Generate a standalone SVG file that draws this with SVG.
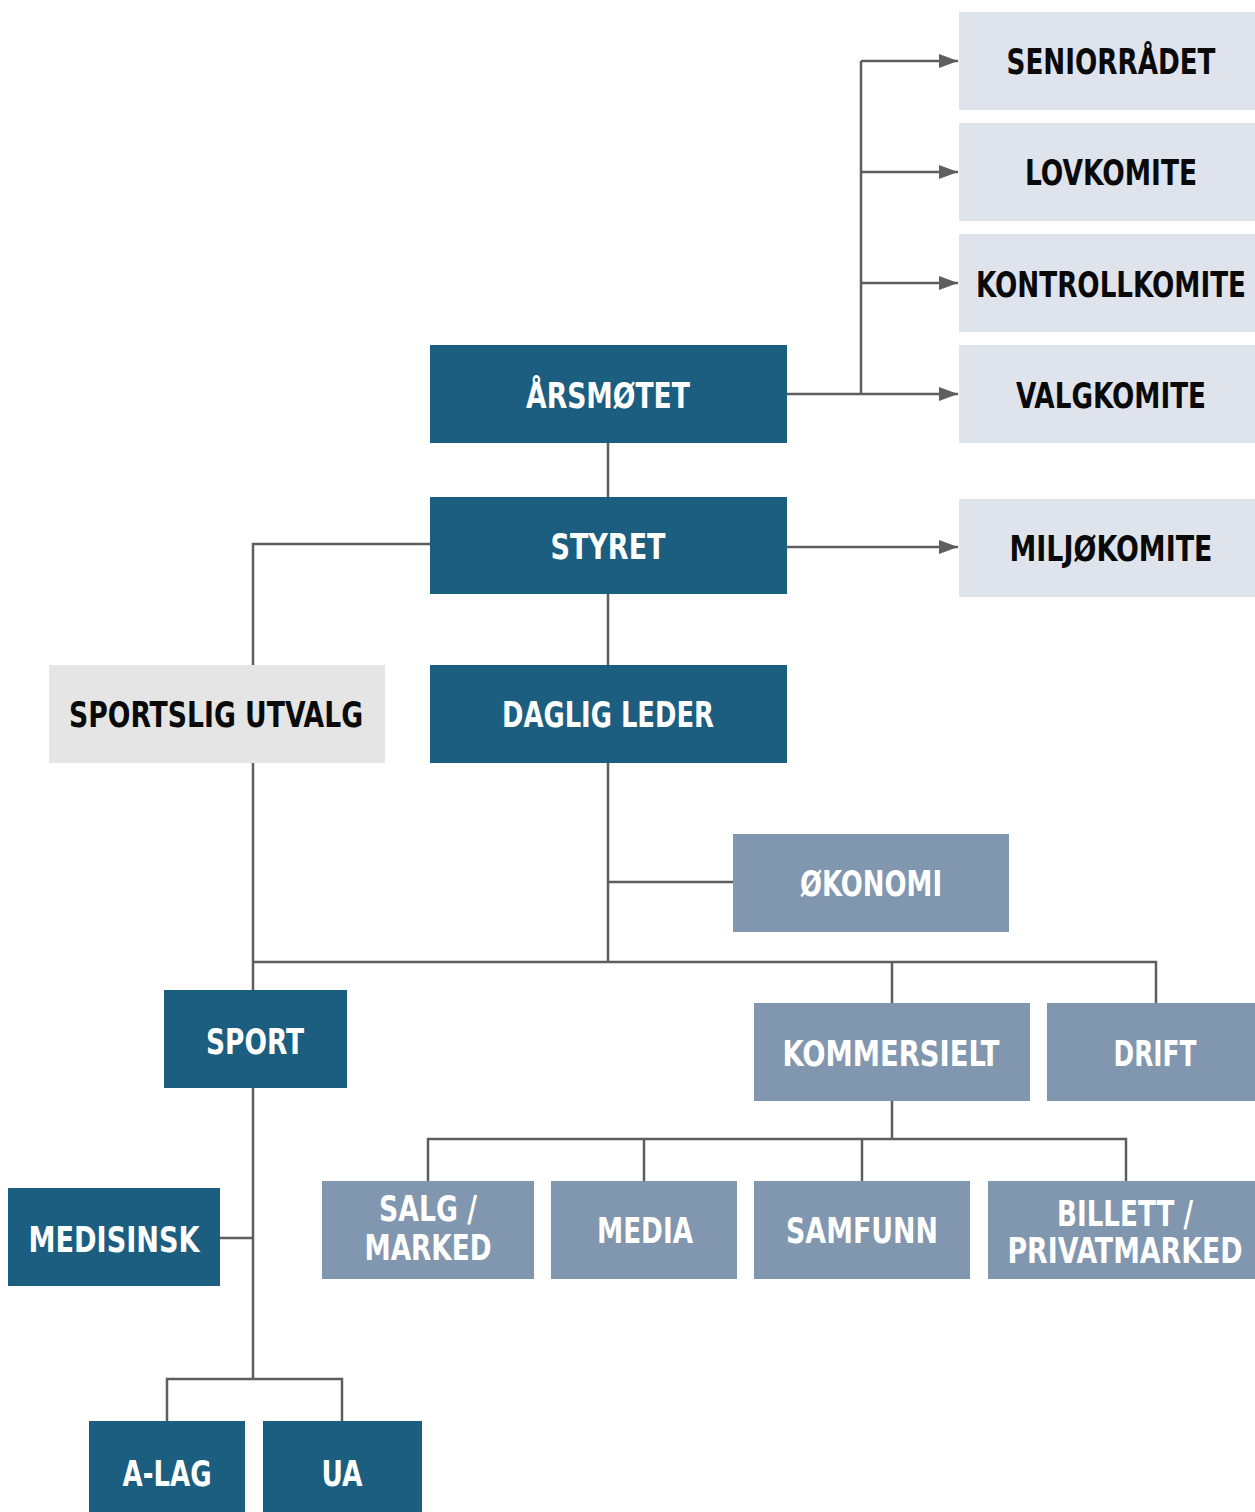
<svg xmlns="http://www.w3.org/2000/svg" width="1255" height="1512" viewBox="0 0 1255 1512">
<defs>
<style>
.dark{fill:#1c5e80}
.mid{fill:#8197af}
.pale{fill:#dfe3ec}
.grey{fill:#e5e5e5}
text{font-family:"DejaVu Sans Condensed","DejaVu Sans","Liberation Sans",sans-serif;font-weight:bold;font-stretch:condensed;font-size:36px;text-anchor:middle}
.w{fill:#ffffff}
.b{fill:#0a0a0a}
.ln{fill:none;stroke:#5e5e5e;stroke-width:2.5}
</style>
<marker id="arr" markerUnits="userSpaceOnUse" markerWidth="20" markerHeight="14" refX="19" refY="7" orient="auto">
<path d="M0,0 L19,7 L0,14 Z" fill="#5e5e5e"/>
</marker>
</defs>
<rect width="1255" height="1512" fill="#ffffff"/>
<g id="connectors">
<path class="ln" d="M861,61 V394"/>
<path class="ln" d="M861,61 H958" marker-end="url(#arr)"/>
<path class="ln" d="M861,172 H958" marker-end="url(#arr)"/>
<path class="ln" d="M861,283 H958" marker-end="url(#arr)"/>
<path class="ln" d="M787,394 H958" marker-end="url(#arr)"/>
<path class="ln" d="M787,547 H958" marker-end="url(#arr)"/>
<path class="ln" d="M608,443 V497"/>
<path class="ln" d="M608,594 V665"/>
<path class="ln" d="M430,544 H253 V665"/>
<path class="ln" d="M253,763 V990"/>
<path class="ln" d="M608,763 V962"/>
<path class="ln" d="M608,882 H733"/>
<path class="ln" d="M253,962 H1156 V1003"/>
<path class="ln" d="M892,962 V1003"/>
<path class="ln" d="M892,1101 V1139"/>
<path class="ln" d="M428,1181 V1139 H1126 V1181"/>
<path class="ln" d="M644,1139 V1181"/>
<path class="ln" d="M862,1139 V1181"/>
<path class="ln" d="M253,1088 V1379"/>
<path class="ln" d="M220,1238 H253"/>
<path class="ln" d="M167,1421 V1379 H342 V1421"/>
</g>
<g id="seniorradet"><rect class="pale" x="959" y="12" width="296" height="98"/><text class="b" transform="translate(1111,74) scale(0.85,1)" textLength="245.9" lengthAdjust="spacingAndGlyphs">SENIORRÅDET</text></g>
<g id="lovkomite"><rect class="pale" x="959" y="123" width="296" height="98"/><text class="b" transform="translate(1111,185) scale(0.85,1)" textLength="202.4" lengthAdjust="spacingAndGlyphs">LOVKOMITE</text></g>
<g id="kontrollkomite"><rect class="pale" x="959" y="234" width="296" height="98"/><text class="b" transform="translate(1111,297) scale(0.85,1)" textLength="317.6" lengthAdjust="spacingAndGlyphs">KONTROLLKOMITE</text></g>
<g id="valgkomite"><rect class="pale" x="959" y="345" width="296" height="98"/><text class="b" transform="translate(1111,408) scale(0.85,1)" textLength="223.5" lengthAdjust="spacingAndGlyphs">VALGKOMITE</text></g>
<g id="miljokomite"><rect class="pale" x="959" y="499" width="296" height="98"/><text class="b" transform="translate(1111,561) scale(0.85,1)" textLength="238.8" lengthAdjust="spacingAndGlyphs">MILJØKOMITE</text></g>
<g id="arsmotet"><rect class="dark" x="430" y="345" width="357" height="98"/><text class="w" transform="translate(608,408) scale(0.85,1)" textLength="192.9" lengthAdjust="spacingAndGlyphs">ÅRSMØTET</text></g>
<g id="styret"><rect class="dark" x="430" y="497" width="357" height="97"/><text class="w" transform="translate(608,559) scale(0.85,1)" textLength="135.3" lengthAdjust="spacingAndGlyphs">STYRET</text></g>
<g id="daglig-leder"><rect class="dark" x="430" y="665" width="357" height="98"/><text class="w" transform="translate(608,727) scale(0.85,1)" textLength="249.4" lengthAdjust="spacingAndGlyphs">DAGLIG LEDER</text></g>
<g id="sportslig-utvalg"><rect class="grey" x="49" y="665" width="336" height="98"/><text class="b" transform="translate(216,727) scale(0.85,1)" textLength="345.9" lengthAdjust="spacingAndGlyphs">SPORTSLIG UTVALG</text></g>
<g id="okonomi"><rect class="mid" x="733" y="834" width="276" height="98"/><text class="w" transform="translate(871,896) scale(0.85,1)" textLength="167.1" lengthAdjust="spacingAndGlyphs">ØKONOMI</text></g>
<g id="sport"><rect class="dark" x="164" y="990" width="183" height="98"/><text class="w" transform="translate(255,1054) scale(0.85,1)" textLength="115.3" lengthAdjust="spacingAndGlyphs">SPORT</text></g>
<g id="kommersielt"><rect class="mid" x="754" y="1003" width="276" height="98"/><text class="w" transform="translate(891,1066) scale(0.85,1)" textLength="255.3" lengthAdjust="spacingAndGlyphs">KOMMERSIELT</text></g>
<g id="drift"><rect class="mid" x="1047" y="1003" width="208" height="98"/><text class="w" transform="translate(1155,1066) scale(0.85,1)" textLength="97.6" lengthAdjust="spacingAndGlyphs">DRIFT</text></g>
<g id="salg-marked"><rect class="mid" x="322" y="1181" width="212" height="98"/><text class="w" transform="translate(428,1221) scale(0.85,1)" textLength="115.3" lengthAdjust="spacingAndGlyphs">SALG /</text><text class="w" transform="translate(428,1260) scale(0.85,1)" textLength="149.4" lengthAdjust="spacingAndGlyphs">MARKED</text></g>
<g id="media"><rect class="mid" x="551" y="1181" width="186" height="98"/><text class="w" transform="translate(645,1243) scale(0.85,1)" textLength="112.9" lengthAdjust="spacingAndGlyphs">MEDIA</text></g>
<g id="samfunn"><rect class="mid" x="754" y="1181" width="216" height="98"/><text class="w" transform="translate(862,1243) scale(0.85,1)" textLength="178.8" lengthAdjust="spacingAndGlyphs">SAMFUNN</text></g>
<g id="billett-privatmarked"><rect class="mid" x="988" y="1181" width="267" height="98"/><text class="w" transform="translate(1125,1226) scale(0.85,1)" textLength="160" lengthAdjust="spacingAndGlyphs">BILLETT /</text><text class="w" transform="translate(1125,1263) scale(0.85,1)" textLength="276.5" lengthAdjust="spacingAndGlyphs">PRIVATMARKED</text></g>
<g id="medisinsk"><rect class="dark" x="8" y="1188" width="212" height="98"/><text class="w" transform="translate(114,1252) scale(0.85,1)" textLength="201.2" lengthAdjust="spacingAndGlyphs">MEDISINSK</text></g>
<g id="a-lag"><rect class="dark" x="89" y="1421" width="156" height="91"/><text class="w" transform="translate(167,1486) scale(0.85,1)" textLength="104.7" lengthAdjust="spacingAndGlyphs">A-LAG</text></g>
<g id="ua"><rect class="dark" x="263" y="1421" width="159" height="91"/><text class="w" transform="translate(342,1486) scale(0.85,1)" textLength="48.2" lengthAdjust="spacingAndGlyphs">UA</text></g>
</svg>
